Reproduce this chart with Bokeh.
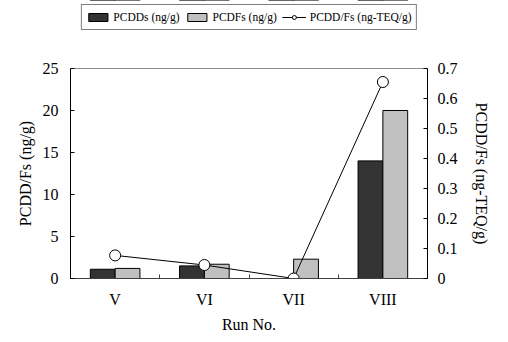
import numpy as np
from bokeh.plotting import figure
from bokeh.layouts import column
from bokeh.models import (Range1d, LinearAxis, FixedTicker, Legend, LegendItem,
                          ColumnDataSource)
from bokeh.transform import dodge
from bokeh.embed import file_html
from bokeh.resources import INLINE

# ---- data ----
runs = ["V", "VI", "VII", "VIII"]
pcdds = [1.1, 1.5, 0.0, 14.0]
pcdfs = [1.2, 1.7, 2.3, 20.0]
teq = [0.077, 0.045, 0.0, 0.655]
left_ticks = [0, 5, 10, 15, 20, 25]
right_ticks = [0, 0.1, 0.2, 0.3, 0.4, 0.5, 0.6, 0.7]

FONT = "Liberation Serif"
DARK = "#333333"
LIGHT = "#c0c0c0"

idx = np.arange(len(runs))
centers = idx + 0.5
bounds = idx[1:].astype(float)
bar_w = 0.278

src = ColumnDataSource(dict(x=centers, pcdds=pcdds, pcdfs=pcdfs, teq=teq))

def add_series(fig):
    a = fig.vbar(x=dodge("x", -bar_w / 2), top="pcdds", width=bar_w, bottom=0,
                 source=src, fill_color=DARK, line_color="black", line_width=1)
    b = fig.vbar(x=dodge("x", bar_w / 2), top="pcdfs", width=bar_w, bottom=0,
                 source=src, fill_color=LIGHT, line_color="black", line_width=1)
    c = fig.line(x="x", y="teq", source=src, y_range_name="teq",
                 line_color="black", line_width=1)
    d = fig.scatter(x="x", y="teq", source=src, y_range_name="teq",
                    marker="circle", size=11, fill_color="white",
                    line_color="black", line_width=1)
    return a, b, c, d

# ---------------- main chart ----------------
p = figure(width=492, height=301,
           x_range=Range1d(0, len(runs)), y_range=Range1d(0, 25),
           output_backend="svg", toolbar_location=None,
           min_border_left=70, min_border_right=62,
           min_border_top=34, min_border_bottom=56,
           x_axis_type=None, y_axis_type=None)
p.extra_y_ranges = {"teq": Range1d(0, 0.7)}
p.outline_line_color = "#8a8a8a"
p.xgrid.visible = False
p.ygrid.visible = False

def style_axis(ax):
    ax.major_label_text_font = FONT
    ax.major_label_text_font_size = "16px"
    ax.major_label_text_color = "black"
    ax.axis_label_text_font = FONT
    ax.axis_label_text_font_size = "16px"
    ax.axis_label_text_font_style = "normal"
    ax.axis_label_text_color = "black"
    ax.major_tick_in = 4
    ax.major_tick_out = 0
    ax.minor_tick_in = 0
    ax.minor_tick_out = 0
    ax.axis_line_color = "black"
    ax.major_tick_line_color = "black"

xax = LinearAxis(ticker=FixedTicker(ticks=list(centers), minor_ticks=list(bounds)),
                 axis_label="Run No.")
style_axis(xax)
xax.major_label_overrides = {float(c): r for c, r in zip(centers, runs)}
xax.major_tick_in = 0
xax.minor_tick_in = 4
xax.minor_tick_line_color = "#404040"
xax.axis_line_color = "#404040"
xax.major_label_standoff = 12
xax.axis_label_standoff = 5
p.add_layout(xax, "below")

lax = LinearAxis(ticker=FixedTicker(ticks=left_ticks, minor_ticks=[]),
                 axis_label="PCDD/Fs (ng/g)")
style_axis(lax)
lax.major_label_standoff = 12
lax.axis_label_standoff = 6
p.add_layout(lax, "left")

rax = LinearAxis(y_range_name="teq",
                 ticker=FixedTicker(ticks=right_ticks, minor_ticks=[]),
                 axis_label="PCDD/Fs (ng-TEQ/g)")
style_axis(rax)
rax.major_label_overrides = {0: "0"}
rax.major_label_standoff = 10
rax.axis_label_standoff = 12
p.add_layout(rax, "right")

add_series(p)

# ---------------- legend strip ----------------
lg = figure(width=492, height=34, x_range=Range1d(0, len(runs)),
            y_range=Range1d(-2, -1), output_backend="svg", toolbar_location=None,
            min_border_left=0, min_border_right=0, min_border_top=0,
            min_border_bottom=0, x_axis_type=None, y_axis_type=None)
lg.extra_y_ranges = {"teq": Range1d(-2, -1)}
lg.outline_line_color = None
lg.xgrid.visible = False
lg.ygrid.visible = False
l1, l2, l3, l4 = add_series(lg)

legend = Legend(items=[
    LegendItem(label="PCDDs (ng/g)", renderers=[l1]),
    LegendItem(label="PCDFs (ng/g)", renderers=[l2]),
    LegendItem(label="PCDD/Fs (ng-TEQ/g)", renderers=[l3, l4]),
], orientation="horizontal", location="center")
legend.label_text_font = FONT
legend.label_text_font_size = "11.5px"
legend.label_text_color = "black"
legend.glyph_width = 24
legend.glyph_height = 10
legend.label_height = 16
legend.label_standoff = 4
legend.spacing = 5
legend.padding = 4
legend.margin = 0
legend.border_line_color = "black"
legend.border_line_width = 1
legend.background_fill_alpha = 1.0
lg.add_layout(legend, "center")

layout = column(lg, p, spacing=0)
open("out.html", "w").write(file_html(layout, INLINE))
